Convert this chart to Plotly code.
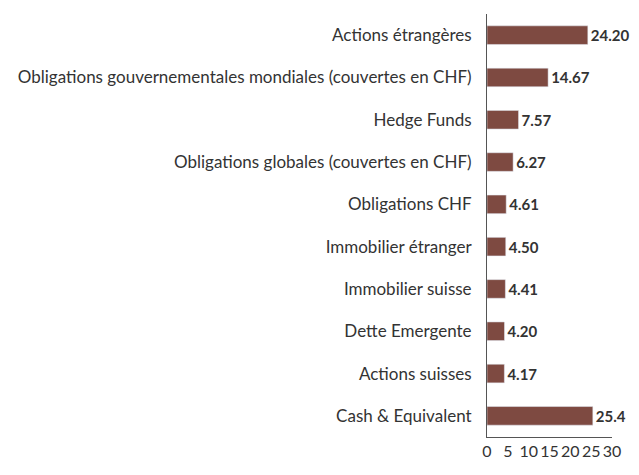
import plotly.graph_objects as go

categories = ["Actions étrangères",
              "Obligations gouvernementales mondiales (couvertes en CHF)",
              "Hedge Funds",
              "Obligations globales (couvertes en CHF)",
              "Obligations CHF",
              "Immobilier étranger",
              "Immobilier suisse",
              "Dette Emergente",
              "Actions suisses",
              "Cash & Equivalent"]
values = [24.20, 14.67, 7.57, 6.27, 4.61, 4.50, 4.41, 4.20, 4.17, 25.4]
labels = ["24.20", "14.67", "7.57", "6.27", "4.61", "4.50", "4.41", "4.20", "4.17", "25.4"]
x_ticks = [0, 5, 10, 15, 20, 25, 30]

FONT = "Lato, sans-serif"

fig = go.Figure(go.Bar(
    y=categories, x=values, orientation="h",
    marker_color="#7e4a41",
    text=["<b>%s</b>" % t for t in labels],
    textposition="outside",
    constraintext="none",
    textfont=dict(family=FONT, size=15, color="#333333"),
    cliponaxis=False,
))
fig.update_layout(
    width=631, height=467,
    margin=dict(l=479, r=27, t=6, b=38),
    plot_bgcolor="white", paper_bgcolor="white",
    bargap=0.56,
    showlegend=False,
    font=dict(family=FONT, color="#333333"),
)
fig.update_yaxes(autorange="reversed", showline=True, linecolor="#555555", linewidth=1,
                 ticks="", ticklabelstandoff=11, tickfont=dict(size=17, color="#333333"),
                 showgrid=False, automargin=False)
fig.update_xaxes(range=[0, 30], tickvals=x_ticks, showline=True, linecolor="#555555",
                 linewidth=1, showgrid=False, zeroline=False, ticks="", tickangle=0,
                 tickfont=dict(size=16, color="#333333"), automargin=False)
fig.write_html("out.html")
